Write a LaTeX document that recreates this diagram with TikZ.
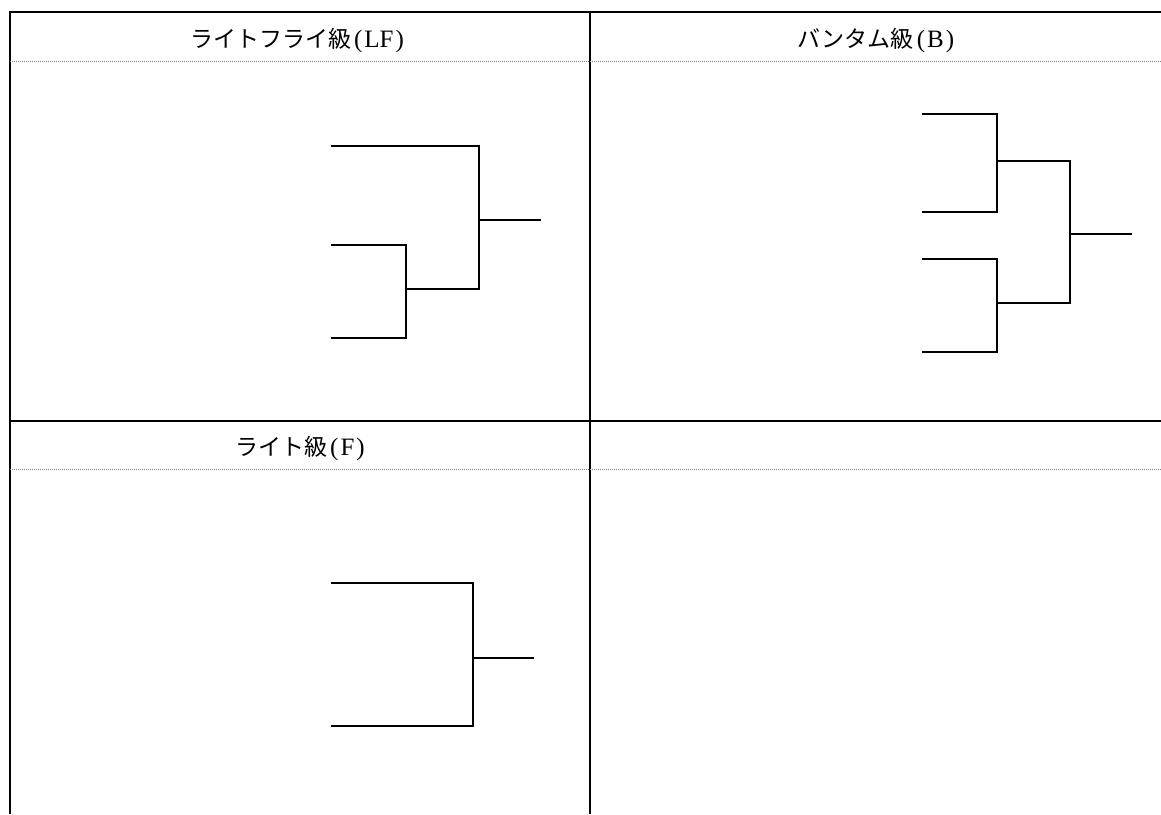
\documentclass[tikz,border=0pt]{standalone}
\usepackage{fontspec}
\setmainfont{Liberation Serif}
\newfontfamily\jpfont{Noto Sans CJK JP}
\newcommand{\latpart}[1]{{\fontsize{25}{28}\selectfont\hspace{3pt}(\hspace{2pt}#1\hspace{2pt})}}
\begin{document}
\begin{tikzpicture}[x=1pt,y=-1pt,
  frame/.style={line width=2pt,black},
  sep/.style={line width=1pt,gray,dash pattern=on 1pt off 1pt},
  bracket/.style={line width=2pt,black,line cap=rect},
  title/.style={font=\fontsize{23}{27}\selectfont, inner sep=0pt, anchor=base}]
\useasboundingbox (0,0) rectangle (1161,814);
% frame
\draw[frame] (10,814) -- (10,12) -- (1165,12);
\draw[frame] (590,12) -- (590,814);
\draw[frame] (10,421) -- (1165,421);
\draw[sep] (10,61) -- (1161,61);
\draw[sep] (10,469) -- (1161,469);
% titles
\node[title] (tLF) at (297,47) {{\jpfont ライトフライ級}\latpart{LF}};
\node[title] (tB) at (876,47) {{\jpfont バンタム級}\latpart{B}};
\node[title] (tF) at (300,455) {{\jpfont ライト級}\latpart{F}};
% LF bracket
\coordinate (lf1) at (332,146);
\coordinate (lf2) at (332,245);
\coordinate (lf3) at (332,338);
\coordinate (lfa) at (406,289);
\coordinate (lfw) at (540,220);
\draw[bracket] (lf1) -- (479,146) -- (479,289) -- (lfa);
\draw[bracket] (lf2) -- (406,245) -- (406,338) -- (lf3);
\draw[bracket] (479,220) -- (lfw);
% B bracket
\coordinate (b1) at (923,114);
\coordinate (b2) at (923,212);
\coordinate (b3) at (923,259);
\coordinate (b4) at (923,352);
\coordinate (bw) at (1131,234);
\draw[bracket] (b1) -- (997,114) -- (997,212) -- (b2);
\draw[bracket] (b3) -- (997,259) -- (997,352) -- (b4);
\draw[bracket] (997,161) -- (1070,161) -- (1070,303) -- (997,303);
\draw[bracket] (1070,234) -- (bw);
% F bracket
\coordinate (f1) at (332,583);
\coordinate (f2) at (332,726);
\coordinate (fw) at (533,658);
\draw[bracket] (f1) -- (473,583) -- (473,726) -- (f2);
\draw[bracket] (473,658) -- (fw);
\end{tikzpicture}
\end{document}
